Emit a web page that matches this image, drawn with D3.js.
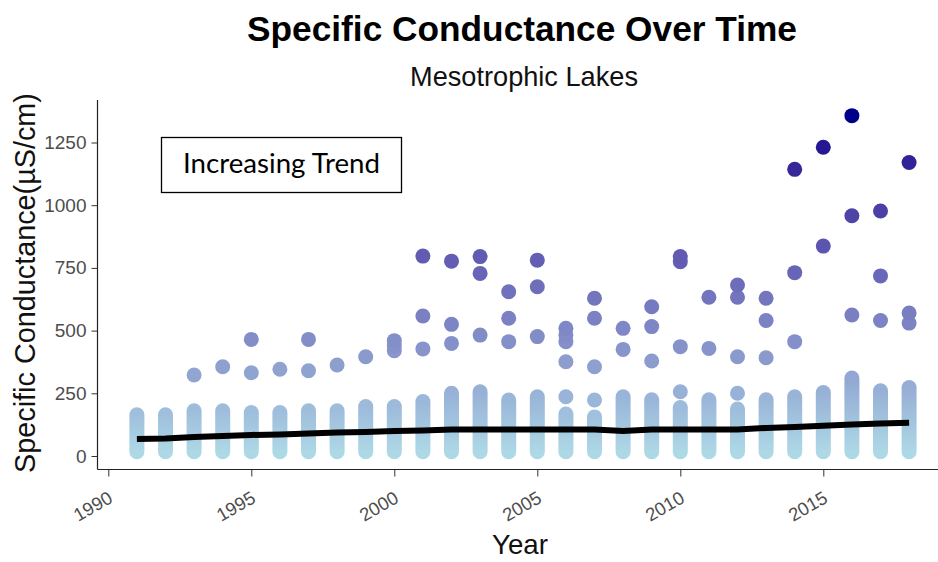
<!DOCTYPE html>
<html>
<head>
<meta charset="utf-8">
<script src="https://cdn.jsdelivr.net/npm/d3@7"></script>
<style>
  body { margin: 0; background: #fff; }
  svg { display: block; }
</style>
</head>
<body>
<svg id="chart" width="938" height="562"></svg>
<script>
// values
const years = [1991, 1992, 1993, 1994, 1995, 1996, 1997, 1998, 1999, 2000,
  2001, 2002, 2003, 2004, 2005, 2006, 2007, 2008, 2009, 2010,
  2011, 2012, 2013, 2014, 2015, 2016, 2017, 2018];

// dense run of overlapping points per year (bottom / top of the column)
const clusterLow = [17, 17, 17, 17, 17, 17, 17, 17, 17, 17,
  17, 17, 17, 17, 17, 17, 17, 17, 17, 17,
  17, 17, 17, 17, 17, 17, 17, 17];
const clusterHigh = [164, 164, 180, 180, 173, 173, 180, 180, 197, 197,
  217, 250, 256, 223, 236, 167, 156, 236, 224, 193,
  224, 187, 224, 236, 253, 311, 260, 273];

// separate points above the column, per year
const highPoints = [
  [], [], [323], [356], [465, 332], [346], [465, 340], [363], [396], [460, 440, 420],
  [797, 558, 427], [777, 525, 449], [795, 728, 482], [655, 549, 456], [781, 675, 476],
  [509, 482, 456, 376, 236], [629, 549, 356, 223], [509, 425], [595, 516, 379],
  [795, 775, 436, 256], [633, 429], [682, 633, 396, 250], [629, 540, 392],
  [1143, 731, 456], [1231, 837], [1357, 958, 562], [977, 718, 540], [1170, 570, 530]
];

// fitted trend per year
const trend = [68, 70, 76, 80, 84, 86, 90, 94, 96, 100,
  102, 106, 106, 106, 106, 106, 106, 100, 106, 106,
  106, 106, 112, 116, 121, 126, 130, 133];

const xTicks = [1990, 1995, 2000, 2005, 2010, 2015];
const yTicks = [0, 250, 500, 750, 1000, 1250];

const svg = d3.select("#chart");
const font = "'Liberation Sans', Arial, sans-serif";

const panel = { left: 97.5, right: 938, top: 100, bottom: 469.5 };
const x = d3.scaleLinear().domain([1990, 2015]).range([108.3, 823.3]);
const y = d3.scaleLinear().domain([0, 1250]).range([456, 142.5]);
const r = 7.5;

const allHigh = highPoints.flat();
const color = d3.scaleLinear()
  .domain([d3.min(clusterLow), d3.max(allHigh)])
  .range(["lightblue", "darkblue"])
  .interpolate(d3.interpolateLab);

// shrink/grow a text node until it has the wanted width
function fitText(sel, width) {
  const node = sel.node();
  const fs = parseFloat(sel.style("font-size"));
  const w = node.getComputedTextLength();
  sel.style("font-size", (fs * width / w).toFixed(2) + "px");
}

// gradients for the dense columns
const defs = svg.append("defs");
years.forEach((yr, i) => {
  const g = defs.append("linearGradient")
    .attr("id", "col" + i)
    .attr("gradientUnits", "userSpaceOnUse")
    .attr("x1", 0).attr("x2", 0)
    .attr("y1", y(clusterHigh[i])).attr("y2", y(clusterLow[i]));
  d3.range(0, 1.01, 0.25).forEach((t) => {
    const v = clusterHigh[i] + (clusterLow[i] - clusterHigh[i]) * t;
    g.append("stop").attr("offset", t).attr("stop-color", color(v));
  });
});

// columns of overlapping points
svg.append("g")
  .selectAll("rect")
  .data(years)
  .join("rect")
  .attr("x", (d) => x(d) - r)
  .attr("width", 2 * r)
  .attr("y", (d, i) => y(clusterHigh[i]) - r)
  .attr("height", (d, i) => y(clusterLow[i]) - y(clusterHigh[i]) + 2 * r)
  .attr("rx", r)
  .attr("fill", (d, i) => "url(#col" + i + ")");

// separate points
const pts = [];
years.forEach((yr, i) => highPoints[i].forEach((v) => pts.push({ year: yr, value: v })));
pts.sort((a, b) => a.value - b.value);
svg.append("g")
  .selectAll("circle")
  .data(pts)
  .join("circle")
  .attr("cx", (d) => x(d.year))
  .attr("cy", (d) => y(d.value))
  .attr("r", r)
  .attr("fill", (d) => color(d.value));

// trend line
const line = d3.line()
  .x((d, i) => x(years[i]))
  .y((d) => y(d));
svg.append("path")
  .datum(trend)
  .attr("d", line)
  .attr("fill", "none")
  .attr("stroke", "#000")
  .attr("stroke-width", 6);

// axis lines
svg.append("line")
  .attr("x1", panel.left).attr("x2", panel.left)
  .attr("y1", panel.top).attr("y2", panel.bottom)
  .attr("stroke", "#222").attr("stroke-width", 1.2);
svg.append("line")
  .attr("x1", panel.left).attr("x2", panel.right)
  .attr("y1", panel.bottom).attr("y2", panel.bottom)
  .attr("stroke", "#222").attr("stroke-width", 1.2);

// y axis
const yAxis = svg.append("g")
  .attr("transform", `translate(${panel.left},0)`)
  .call(d3.axisLeft(y).tickValues(yTicks).tickFormat(d3.format("d")).tickSize(6).tickPadding(5));
yAxis.select(".domain").remove();
yAxis.selectAll(".tick line").attr("stroke", "#333");
yAxis.selectAll(".tick text")
  .style("font-family", font)
  .style("font-size", "19px")
  .attr("fill", "#4d4d4d");

// x axis
const xAxis = svg.append("g")
  .attr("transform", `translate(0,${panel.bottom})`)
  .call(d3.axisBottom(x).tickValues(xTicks).tickFormat(d3.format("d")).tickSize(7));
xAxis.select(".domain").remove();
xAxis.selectAll(".tick line").attr("stroke", "#333");
xAxis.selectAll(".tick text")
  .style("font-family", font)
  .style("font-size", "18.5px")
  .attr("fill", "#4d4d4d")
  .attr("text-anchor", "end")
  .attr("dy", null)
  .attr("y", 0)
  .attr("transform", "translate(5,32) rotate(-30)");

// titles
const title = svg.append("text")
  .attr("x", 522).attr("y", 41)
  .attr("text-anchor", "middle")
  .style("font-family", font)
  .style("font-weight", "bold")
  .style("font-size", "30px")
  .attr("fill", "#000")
  .text("Specific Conductance Over Time");
fitText(title, 550);

const subtitle = svg.append("text")
  .attr("x", 524).attr("y", 86)
  .attr("text-anchor", "middle")
  .style("font-family", font)
  .style("font-size", "26px")
  .attr("fill", "#111")
  .text("Mesotrophic Lakes");
fitText(subtitle, 228);

const xTitle = svg.append("text")
  .attr("x", 520).attr("y", 554)
  .attr("text-anchor", "middle")
  .style("font-family", font)
  .style("font-size", "24px")
  .attr("fill", "#111")
  .text("Year");
fitText(xTitle, 56);

const yTitle = svg.append("text")
  .attr("transform", "translate(35,283) rotate(-90)")
  .attr("text-anchor", "middle")
  .style("font-family", font)
  .style("font-size", "24px")
  .attr("fill", "#111")
  .text("Specific Conductance(\u00b5S/cm)");
fitText(yTitle, 380);

// annotation box
svg.append("rect")
  .attr("x", 161.5).attr("y", 137.5)
  .attr("width", 240).attr("height", 55)
  .attr("fill", "#fff")
  .attr("stroke", "#000")
  .attr("stroke-width", 1.3);
const note = svg.append("text")
  .attr("x", 281.5).attr("y", 173)
  .attr("text-anchor", "middle")
  .style("font-family", "Lato, 'Open Sans', sans-serif")
  .style("font-size", "22px")
  .attr("fill", "#000")
  .text("Increasing Trend");
fitText(note, 197);
</script>
</body>
</html>
